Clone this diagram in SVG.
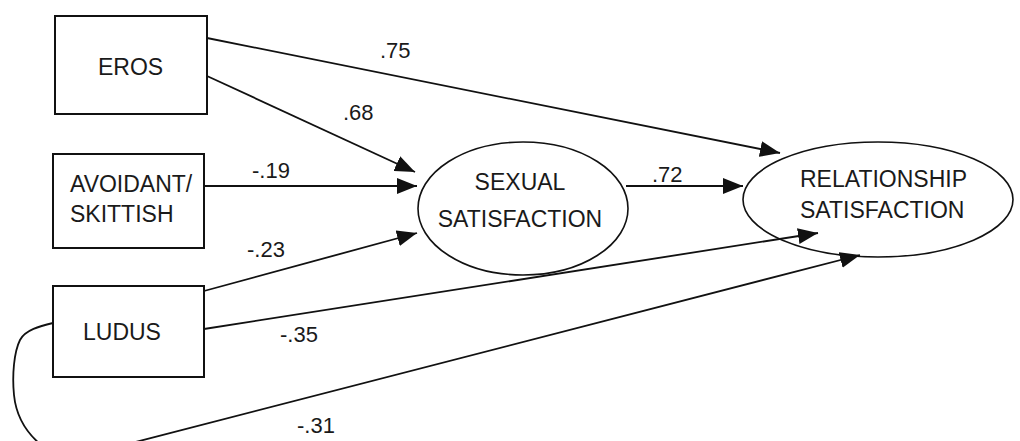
<svg xmlns="http://www.w3.org/2000/svg" width="1020" height="441" viewBox="0 0 1020 441">
<style>
.box{fill:none;stroke:#111;stroke-width:2}
.ell{fill:none;stroke:#111;stroke-width:1.6}
.t{font-family:"Liberation Sans",Arial,sans-serif;font-size:23px;fill:#1a1a1a}
.lbl{font-family:"Liberation Sans",Arial,sans-serif;font-size:22px;fill:#1a1a1a}
.c{fill:none;stroke:#111;stroke-width:1.8}
</style>
<defs>
<marker id="ah" markerUnits="userSpaceOnUse" markerWidth="20" markerHeight="16" refX="20" refY="8" orient="auto">
<path d="M0,0 L20,8 L0,16 z" fill="#111"/>
</marker>
</defs>
<rect width="1020" height="441" fill="#fff"/>
<g id="eros">
<rect class="box" x="55" y="16" width="152" height="98"/>
<text class="t" x="98" y="75">EROS</text>
</g>
<g id="avoidant">
<rect class="box" x="53" y="154" width="151" height="94"/>
<text class="t" x="70" y="192">AVOIDANT/</text>
<text class="t" x="70" y="222">SKITTISH</text>
</g>
<g id="ludus">
<rect class="box" x="53" y="286" width="151" height="91"/>
<text class="t" x="83" y="340">LUDUS</text>
</g>
<g id="sexual">
<ellipse class="ell" cx="523" cy="208.5" rx="105" ry="66.5"/>
<text class="t" x="520" y="190" text-anchor="middle">SEXUAL</text>
<text class="t" x="520" y="227" text-anchor="middle">SATISFACTION</text>
</g>
<g id="relationship">
<ellipse class="ell" cx="878" cy="199.5" rx="135" ry="57.5"/>
<text class="t" x="800" y="187">RELATIONSHIP</text>
<text class="t" x="800" y="218">SATISFACTION</text>
</g>
<g id="connectors">
<line class="c" x1="207" y1="38" x2="780" y2="153" marker-end="url(#ah)"/>
<line class="c" x1="207" y1="76" x2="415" y2="172" marker-end="url(#ah)"/>
<line class="c" x1="204" y1="186" x2="417" y2="186" marker-end="url(#ah)"/>
<line class="c" x1="204" y1="291" x2="417" y2="233" marker-end="url(#ah)"/>
<line class="c" x1="626" y1="186" x2="743" y2="186" marker-end="url(#ah)"/>
<line class="c" x1="204" y1="329" x2="818" y2="233" marker-end="url(#ah)"/>
<path class="c" d="M53,323 C40,326 25,330 20,340 C14,352 12,375 14,395 C16,415 26,432 40,444 C55,456 90,455 120,446 L860,255" marker-end="url(#ah)"/>
</g>
<g id="labels">
<text class="lbl" x="380" y="58">.75</text>
<text class="lbl" x="343" y="120">.68</text>
<text class="lbl" x="252" y="178">-.19</text>
<text class="lbl" x="247" y="257">-.23</text>
<text class="lbl" x="280" y="342">-.35</text>
<text class="lbl" x="297" y="433">-.31</text>
<text class="lbl" x="652" y="182">.72</text>
</g>
</svg>
